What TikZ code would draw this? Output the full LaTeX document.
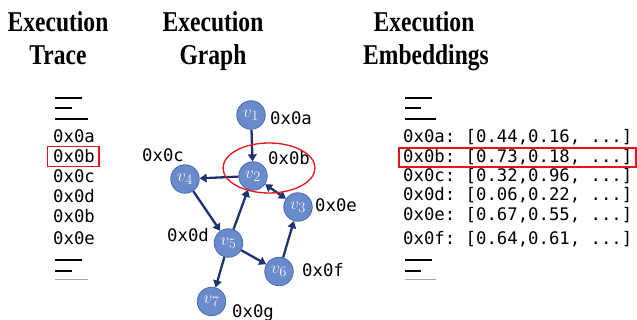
\documentclass[tikz,border=0pt]{standalone}
\usepackage{fontspec}
\setmonofont{DejaVu Sans Mono}
\newfontfamily\titlefont[FakeStretch=0.82]{Liberation Serif}
\usetikzlibrary{arrows.meta}
\definecolor{nodefill}{HTML}{6A8BCB}
\definecolor{nodeline}{HTML}{4A6AAE}
\definecolor{edgecol}{HTML}{1C3370}
\definecolor{hilite}{HTML}{E8121B}
\tikzset{
  title/.style={font=\titlefont\bfseries\fontsize{28.7}{33}\selectfont, align=center, inner sep=0pt},
  code/.style={font=\ttfamily\fontsize{17.3}{20}\selectfont, inner sep=0pt, anchor=base west},
  vert/.style={circle, fill=nodefill, draw=nodeline, line width=0.8pt, minimum size=28.5pt, inner sep=0pt,
               text=white!92!nodefill, font=\fontsize{19}{19}\selectfont},
  edge/.style={draw=edgecol, line width=2.3pt, -{Triangle[length=7pt,width=8.5pt]}},
  bar/.style={line width=2.2pt, black},
  redmark/.style={draw=hilite, line width=1.3pt},
}
\begin{document}
\begin{tikzpicture}[x=1pt, y=-1pt]
\useasboundingbox (0,0) rectangle (637,320);

% column headings
\node[title, anchor=base] (t1) at (58,32) {Execution};
\node[title, anchor=base] (t1b) at (58,65) {Trace};
\node[title, anchor=base] (t2) at (213,32) {Execution};
\node[title, anchor=base] (t2b) at (213,65) {Graph};
\node[title, anchor=base] (t3) at (424,32) {Execution};
\node[title, anchor=base] (t3b) at (426,65) {Embeddings};

% trace column
\draw[bar] (55,97.7) -- (82,97.7);
\draw[bar] (55,108) -- (72,108);
\draw[bar] (55,119) -- (88,119);
\node[code] (ta) at (53,143) {0x0a};
\node[code] (tb) at (53,163) {0x0b};
\node[code] (tc) at (53,183) {0x0c};
\node[code] (td) at (53,203) {0x0d};
\node[code] (tb2) at (53,223) {0x0b};
\node[code] (te) at (53,245) {0x0e};
\draw[bar] (55,260) -- (82,260);
\draw[bar] (55,271) -- (72,271);
\draw[line width=1.5pt, black!35] (55,279.5) -- (88,279.5);
\draw[redmark] (47.7,146.7) rectangle (99,166.7);

% embeddings column
\draw[bar] (405,97.7) -- (432,97.7);
\draw[bar] (405,108) -- (421,108);
\draw[bar] (405,119) -- (436,119);
\node[code] (ea) at (403,143) {0x0a: [0.44,0.16, ...]};
\node[code] (eb) at (403,163) {0x0b: [0.73,0.18, ...]};
\node[code] (ec) at (403,182) {0x0c: [0.32,0.96, ...]};
\node[code] (ed) at (403,201) {0x0d: [0.06,0.22, ...]};
\node[code] (ee) at (403,221) {0x0e: [0.67,0.55, ...]};
\node[code] (ef) at (403,245) {0x0f: [0.64,0.61, ...]};
\draw[bar] (405,260) -- (432,260);
\draw[bar] (405,271) -- (421,271);
\draw[line width=1.5pt, black!35] (405,279.5) -- (436,279.5);
\draw[redmark] (399,148) rectangle (636,167);

% execution graph
\node[vert] (v1) at (251,115) {$v_1$};
\node[vert] (v2) at (253,176) {$v_2$};
\node[vert] (v4) at (185,179) {$v_4$};
\node[vert] (v3) at (298,207) {$v_3$};
\node[vert] (v5) at (228.5,243) {$v_5$};
\node[vert] (v6) at (279,271.5) {$v_6$};
\node[vert] (v7) at (211.5,301.5) {$v_7$};

\node[code] (l1) at (270,125) {0x0a};
\node[code] (l2) at (268,165) {0x0b};
\node[code] (l4) at (142,162) {0x0c};
\node[code] (l3) at (315,212) {0x0e};
\node[code] (l5) at (167,242) {0x0d};
\node[code] (l6) at (302,277) {0x0f};
\node[code] (l7) at (232,317) {0x0g};

\draw[edge] (v1) -- (v2);
\draw[edge] (v2) -- (v4);
\draw[edge] (v4) -- (v5);
\draw[edge] (v5) -- (v2);
\draw[edge] (v5) -- (v6);
\draw[edge] (v6) -- (v3);
\draw[edge] (v5) -- (v7);
\draw[edge, {Triangle[length=7pt,width=8.5pt]}-{Triangle[length=7pt,width=8.5pt]}] (v2) -- (v3);

\draw[redmark] (269,168) ellipse [x radius=46, y radius=25];
\end{tikzpicture}
\end{document}
